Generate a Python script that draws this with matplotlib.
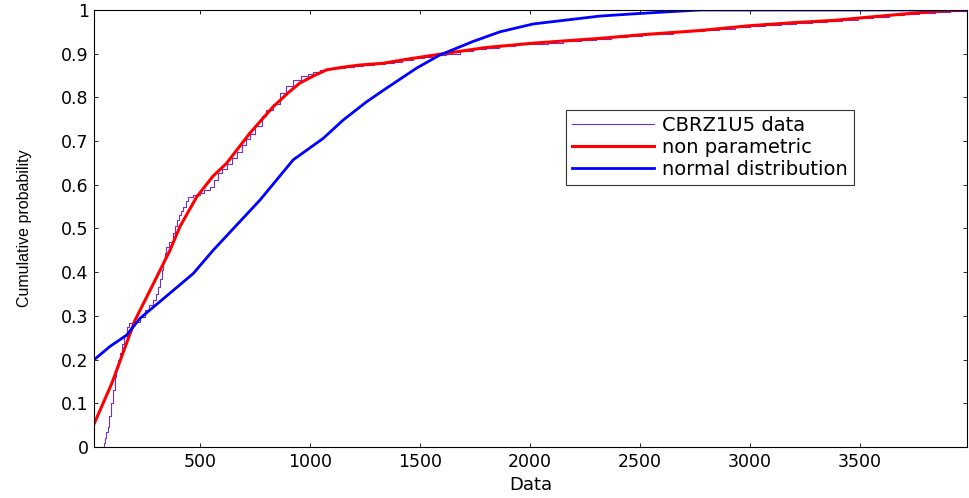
import matplotlib
matplotlib.use("Agg")
import matplotlib.pyplot as plt
import matplotlib.ticker as ticker

plt.rcParams["font.family"] = ["DejaVu Sans"]

# CBRZ1U5 data (empirical CDF, drawn as steps)
data_x = [56, 62, 68, 75, 83, 88, 95, 106, 112, 120, 128, 136, 145, 155, 167, 180,
          197, 227, 250, 270, 288, 300, 311, 320, 328, 333, 340, 348, 360, 379,
          388, 394, 405, 415, 424, 435, 447, 470, 500, 520, 545, 565, 583, 600,
          621, 645, 667, 690, 710, 727, 750, 780, 800, 832, 864, 890, 924, 960,
          990, 1015, 1045, 1076, 1110, 1160, 1200, 1240, 1290, 1340, 1380, 1420,
          1470, 1520, 1570, 1620, 1680, 1740, 1800, 1860, 1930, 2000, 2080, 2150,
          2230, 2300, 2370, 2440, 2510, 2580, 2650, 2720, 2790, 2860, 2930, 3000,
          3070, 3140, 3210, 3280, 3350, 3420, 3490, 3560, 3630, 3700, 3770, 3840,
          3910, 3985]
data_y = [0.0, 0.01, 0.02, 0.035, 0.046, 0.07, 0.1, 0.13, 0.16, 0.18, 0.2, 0.215,
          0.235, 0.255, 0.275, 0.283, 0.287, 0.298, 0.313, 0.325, 0.336, 0.35,
          0.367, 0.385, 0.405, 0.428, 0.443, 0.458, 0.47, 0.489, 0.505, 0.519,
          0.53, 0.54, 0.55, 0.562, 0.573, 0.576, 0.581, 0.588, 0.596, 0.61, 0.626,
          0.635, 0.648, 0.662, 0.675, 0.69, 0.705, 0.716, 0.735, 0.757, 0.77,
          0.784, 0.81, 0.826, 0.84, 0.848, 0.853, 0.857, 0.862, 0.866, 0.868,
          0.870, 0.872, 0.874, 0.876, 0.879, 0.882, 0.886, 0.889, 0.892, 0.896,
          0.900, 0.905, 0.910, 0.914, 0.918, 0.921, 0.923, 0.925, 0.928, 0.931,
          0.934, 0.937, 0.941, 0.944, 0.946, 0.949, 0.951, 0.954, 0.957, 0.961,
          0.964, 0.966, 0.969, 0.971, 0.973, 0.975, 0.978, 0.981, 0.985, 0.988,
          0.991, 0.994, 0.996, 0.998, 1.0]

# non parametric estimate
np_x = [20, 100, 205, 290, 364, 409, 485, 560, 621, 727, 832, 900, 955, 1020, 1076,
        1150, 1227, 1332, 1450, 1621, 1800, 2014, 2318, 2500, 2773, 3000, 3200,
        3377, 3550, 3682, 3850, 3985]
np_y = [0.054, 0.146, 0.29, 0.375, 0.45, 0.504, 0.572, 0.62, 0.649, 0.718, 0.778,
        0.81, 0.833, 0.85, 0.863, 0.869, 0.874, 0.878, 0.888, 0.901, 0.914, 0.924,
        0.935, 0.943, 0.953, 0.964, 0.971, 0.976, 0.984, 0.99, 0.997, 1.0]

# normal distribution fit
nd_x = [20, 91, 167, 227, 364, 470, 560, 773, 924, 1060, 1151, 1258, 1348, 1485,
        1591, 1742, 1864, 2015, 2318, 2500, 2773, 3985]
nd_y = [0.2, 0.23, 0.256, 0.294, 0.352, 0.397, 0.45, 0.565, 0.657, 0.706, 0.748,
        0.79, 0.821, 0.867, 0.897, 0.928, 0.95, 0.968, 0.986, 0.992, 1.0, 1.0]

x_ticks = [500, 1000, 1500, 2000, 2500, 3000, 3500]
y_ticks = [0, 0.1, 0.2, 0.3, 0.4, 0.5, 0.6, 0.7, 0.8, 0.9, 1]

fig = plt.figure(figsize=(9.69, 4.98), dpi=100)
ax = fig.add_axes([0.0973, 0.1024, 0.9003, 0.8776])

ax.plot(data_x, data_y, drawstyle="steps-post", color="#7030d0", linewidth=0.8,
        label="CBRZ1U5 data")
ax.plot(np_x, np_y, color="#ff0000", linewidth=2.2, label="non parametric")
ax.plot(nd_x, nd_y, color="#0000ff", linewidth=2.0, label="normal distribution")

ax.set_xlim(20, 3985)
ax.set_ylim(0, 1)
ax.set_xticks(x_ticks)
ax.set_yticks(y_ticks)
ax.yaxis.set_major_formatter(ticker.FormatStrFormatter("%g"))
ax.tick_params(direction="in", top=True, right=True, length=3, width=0.6,
               labelsize=12.5, pad=4)
for s in ax.spines.values():
    s.set_linewidth(0.8)

ax.set_xlabel("Data", fontsize=13, labelpad=4)
ax.set_ylabel("Cumulative probability", fontsize=11.5, family="Liberation Sans")
ax.yaxis.set_label_coords(-0.071, 0.5)

leg = ax.legend(loc="upper left", bbox_to_anchor=(0.541, 0.771), borderaxespad=0,
                fontsize=14, frameon=True, fancybox=False, edgecolor="black",
                handlelength=4.2, handletextpad=0.45, borderpad=0.3,
                labelspacing=0.15)
leg.get_frame().set_linewidth(0.8)

fig.savefig("out.png", dpi=100)
